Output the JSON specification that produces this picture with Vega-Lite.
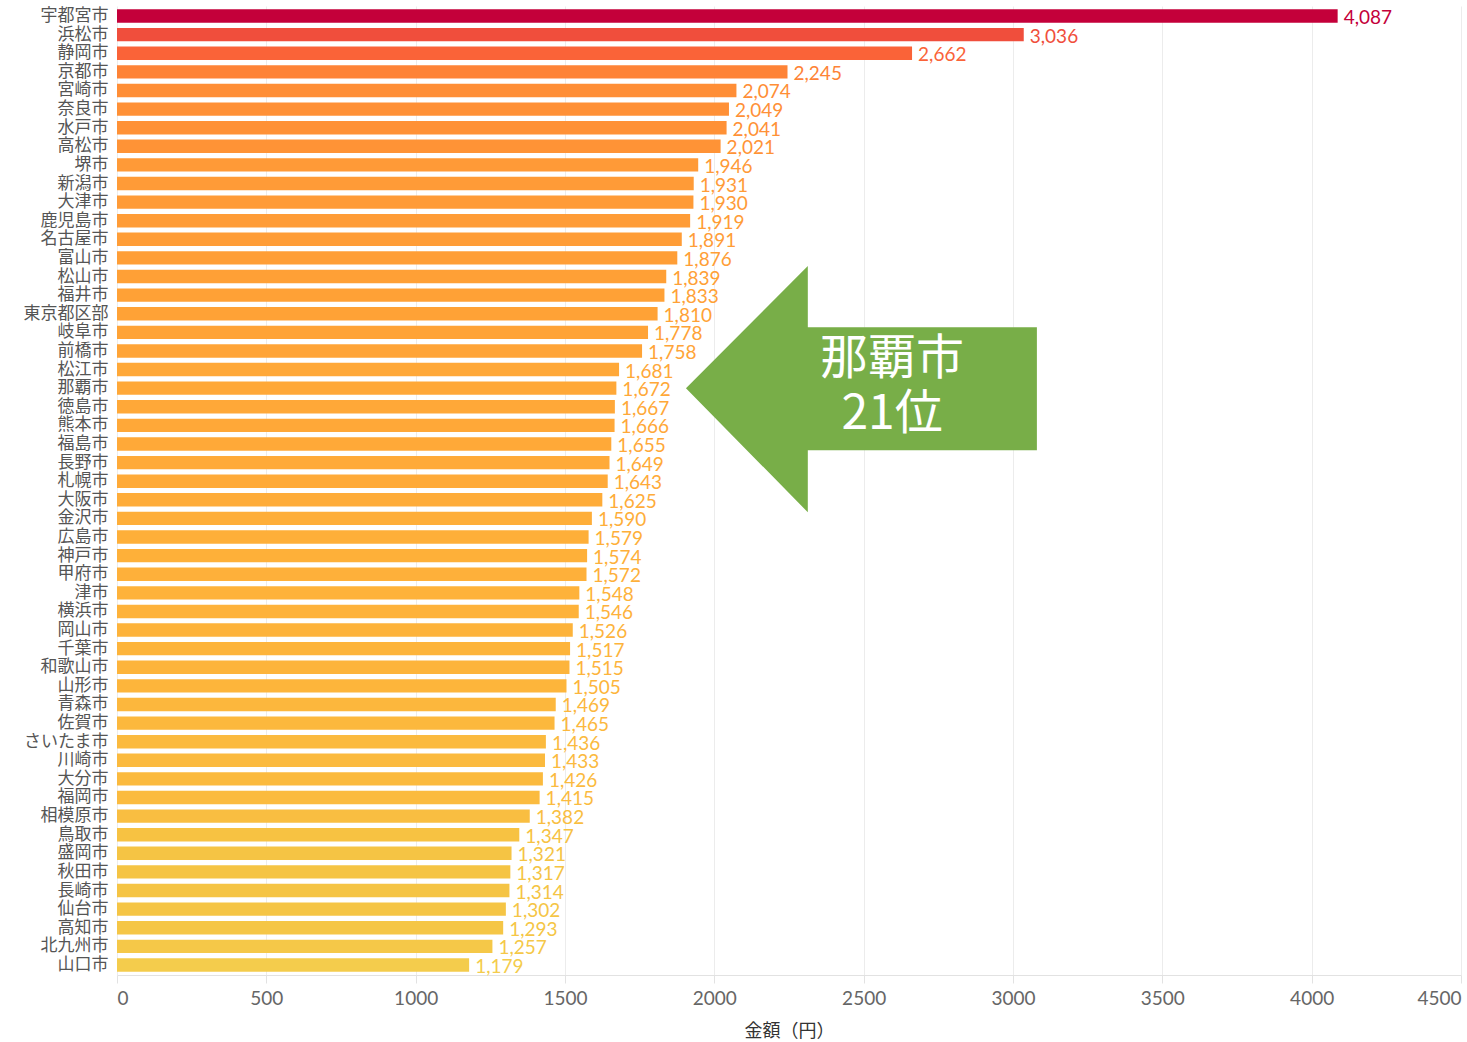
{
  "$schema": "https://vega.github.io/schema/vega-lite/v6.json",
  "autosize": "none",
  "width": 1344,
  "height": 969,
  "padding": {"left": 117, "top": 6, "right": 6, "bottom": 67},
  "background": "white",
  "config": {
    "view": {"stroke": null}
  },
  "datasets": {
    "cities": [
      {"city": "宇都宮市", "value": 4087},
      {"city": "浜松市", "value": 3036},
      {"city": "静岡市", "value": 2662},
      {"city": "京都市", "value": 2245},
      {"city": "宮崎市", "value": 2074},
      {"city": "奈良市", "value": 2049},
      {"city": "水戸市", "value": 2041},
      {"city": "高松市", "value": 2021},
      {"city": "堺市", "value": 1946},
      {"city": "新潟市", "value": 1931},
      {"city": "大津市", "value": 1930},
      {"city": "鹿児島市", "value": 1919},
      {"city": "名古屋市", "value": 1891},
      {"city": "富山市", "value": 1876},
      {"city": "松山市", "value": 1839},
      {"city": "福井市", "value": 1833},
      {"city": "東京都区部", "value": 1810},
      {"city": "岐阜市", "value": 1778},
      {"city": "前橋市", "value": 1758},
      {"city": "松江市", "value": 1681},
      {"city": "那覇市", "value": 1672},
      {"city": "徳島市", "value": 1667},
      {"city": "熊本市", "value": 1666},
      {"city": "福島市", "value": 1655},
      {"city": "長野市", "value": 1649},
      {"city": "札幌市", "value": 1643},
      {"city": "大阪市", "value": 1625},
      {"city": "金沢市", "value": 1590},
      {"city": "広島市", "value": 1579},
      {"city": "神戸市", "value": 1574},
      {"city": "甲府市", "value": 1572},
      {"city": "津市", "value": 1548},
      {"city": "横浜市", "value": 1546},
      {"city": "岡山市", "value": 1526},
      {"city": "千葉市", "value": 1517},
      {"city": "和歌山市", "value": 1515},
      {"city": "山形市", "value": 1505},
      {"city": "青森市", "value": 1469},
      {"city": "佐賀市", "value": 1465},
      {"city": "さいたま市", "value": 1436},
      {"city": "川崎市", "value": 1433},
      {"city": "大分市", "value": 1426},
      {"city": "福岡市", "value": 1415},
      {"city": "相模原市", "value": 1382},
      {"city": "鳥取市", "value": 1347},
      {"city": "盛岡市", "value": 1321},
      {"city": "秋田市", "value": 1317},
      {"city": "長崎市", "value": 1314},
      {"city": "仙台市", "value": 1302},
      {"city": "高知市", "value": 1293},
      {"city": "北九州市", "value": 1257},
      {"city": "山口市", "value": 1179}
    ],
    "arrow": [
      {"value": 1905, "top": 21, "bottom": 21},
      {"value": 2313, "top": 14.44, "bottom": 27.67},
      {"value": 2313.01, "top": 17.72, "bottom": 24.33},
      {"value": 3080, "top": 17.72, "bottom": 24.33}
    ],
    "note": [
      {"value": 2595, "k": 19.49, "label": "那覇市"},
      {"value": 2595, "k": 22.44, "label": "21位"}
    ]
  },
  "layer": [
    {
      "data": {"name": "cities"},
      "encoding": {
        "y": {
          "field": "city",
          "type": "nominal",
          "sort": {"field": "value", "order": "descending"},
          "scale": {"paddingInner": 0.28, "paddingOuter": 0.18},
          "axis": {
            "title": null,
            "ticks": false,
            "domain": false,
            "grid": false,
            "labelFont": "Noto Sans CJK JP",
            "labelFontSize": 17,
            "labelColor": "#555555",
            "labelPadding": 9
          }
        },
        "x": {
          "field": "value",
          "type": "quantitative",
          "scale": {"domain": [0, 4500], "nice": false},
          "axis": {
            "title": "金額（円）",
            "values": [0, 500, 1000, 1500, 2000, 2500, 3000, 3500, 4000, 4500],
            "format": "d",
            "grid": true,
            "gridColor": "#ececec",
            "gridWidth": 1,
            "domainColor": "#e2e2e2",
            "tickColor": "#e2e2e2",
            "tickSize": 8,
            "labelFont": "Lato",
            "labelFontSize": 19,
            "labelColor": "#666666",
            "labelPadding": 6,
            "labelFlush": true,
            "titleFont": "Noto Sans CJK JP",
            "titleFontSize": 18,
            "titleFontWeight": "normal",
            "titleColor": "#333333",
            "titlePadding": 14
          }
        }
      },
      "layer": [
        {
          "mark": {"type": "bar"},
          "encoding": {
            "color": {
              "field": "value",
              "type": "quantitative",
              "legend": null,
              "scale": {
                "type": "linear",
                "domain": [1179, 1321, 1415, 1505, 1672, 1810, 1946, 2074, 2245, 2662, 3036, 4087],
                "range": ["#f4cc4c", "#f5c444", "#fbbb3f", "#fdb53b", "#ffa838", "#ffa236", "#ff9a37", "#ff8e36", "#fe8336", "#fa6338", "#f04e3c", "#c4003a"]
              }
            }
          }
        },
        {
          "mark": {"type": "text", "align": "left", "baseline": "middle", "dx": 6, "dy": 2, "font": "Lato", "fontSize": 19},
          "encoding": {
            "text": {"field": "value", "type": "quantitative", "format": ","},
            "color": {
              "field": "value",
              "type": "quantitative",
              "legend": null,
              "scale": {
                "type": "linear",
                "domain": [1179, 1321, 1415, 1505, 1672, 1810, 1946, 2074, 2245, 2662, 3036, 4087],
                "range": ["#f4cc4c", "#f5c444", "#fbbb3f", "#fdb53b", "#ffa838", "#ffa236", "#ff9a37", "#ff8e36", "#fe8336", "#fa6338", "#f04e3c", "#c4003a"]
              }
            }
          }
        }
      ]
    },
    {
      "data": {"name": "arrow"},
      "mark": {"type": "area", "color": "#78ae48", "opacity": 1, "interpolate": "linear"},
      "encoding": {
        "x": {"field": "value", "type": "quantitative", "scale": {"domain": [0, 4500], "nice": false}},
        "y": {"field": "top", "type": "quantitative", "axis": null, "scale": {"domain": [0.46, 52.54], "reverse": true, "nice": false, "zero": false}},
        "y2": {"field": "bottom"}
      }
    },
    {
      "data": {"name": "note"},
      "mark": {"type": "text", "color": "white", "font": "Noto Sans CJK JP", "fontSize": 48, "align": "center", "baseline": "middle"},
      "encoding": {
        "x": {"field": "value", "type": "quantitative", "scale": {"domain": [0, 4500], "nice": false}},
        "y": {"field": "k", "type": "quantitative", "axis": null, "scale": {"domain": [0.46, 52.54], "reverse": true, "nice": false, "zero": false}},
        "text": {"field": "label"}
      }
    }
  ],
  "resolve": {"scale": {"y": "independent"}}
}
